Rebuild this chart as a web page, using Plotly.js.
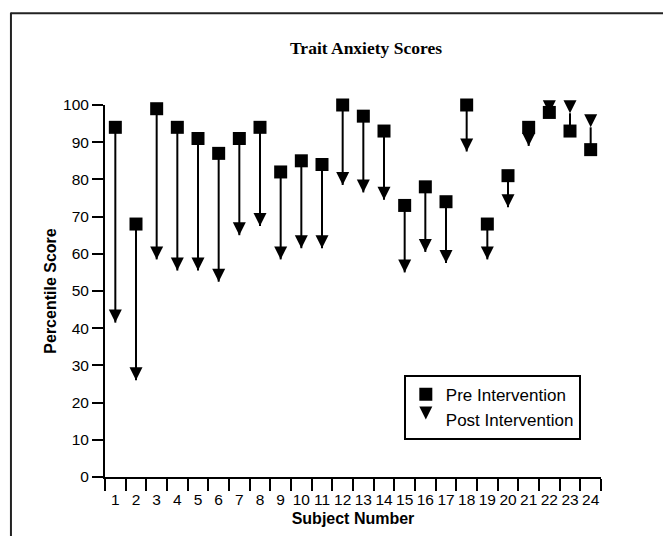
<!DOCTYPE html>
<html>
<head>
<meta charset="utf-8">
<script src="https://cdn.plot.ly/plotly-3.0.1.min.js"></script>
<style>
  html, body { margin: 0; padding: 0; background: #ffffff; }
  #chart { width: 663px; height: 536px; }
</style>
</head>
<body>
<div id="chart"></div>
<script>
// ---- data ----
var subjects = ["1","2","3","4","5","6","7","8","9","10","11","12",
                "13","14","15","16","17","18","19","20","21","22","23","24"];
var preIntervention  = [94, 68, 99, 94, 91, 87, 91, 94, 82, 85, 84, 100,
                        97, 93, 73, 78, 74, 100, 68, 81, 94, 98, 93, 88];
var postIntervention = [41.5, 26, 58.5, 55.5, 55.5, 52.5, 65, 67.5, 58.5, 61.5, 61.5, 78.5,
                        76.5, 74.5, 55, 60.5, 57.5, 87.5, 58.5, 72.5, 89, 97.8, 97.8, 94];
var seriesNames = ["Pre Intervention", "Post Intervention"];
var chartTitle = "Trait Anxiety Scores";
var xTitle = "Subject Number";
var yTitle = "Percentile Score";

// ---- connecting segments built from the data ----
var segX = [], segY = [];
for (var i = 0; i < subjects.length; i++) {
  segX.push(subjects[i], subjects[i], null);
  segY.push(preIntervention[i], postIntervention[i], null);
}

var W = 663, H = 536;
var M = {l: 104.7, r: 61.5, t: 104.5, b: 58.5};
var PW = W - M.l - M.r, PH = H - M.t - M.b;
function px2x(px) { return (px - M.l) / PW; }
function py2y(py) { return (H - M.b - py) / PH; }

var axisFont = {family: "Liberation Sans, Arial, sans-serif", size: 15.5, color: "#000"};

var traces = [
  {
    x: segX, y: segY, type: "scatter", mode: "lines",
    line: {color: "#000", width: 2}, showlegend: false, hoverinfo: "skip",
    cliponaxis: false
  },
  {
    x: subjects, y: postIntervention, type: "scatter", mode: "markers",
    name: seriesNames[1], legendrank: 2,
    marker: {symbol: "arrow-down", size: 13, color: "#000", line: {width: 0}},
    cliponaxis: false
  },
  {
    x: subjects, y: preIntervention, type: "scatter", mode: "markers",
    name: seriesNames[0], legendrank: 1,
    marker: {symbol: "square", size: 13, color: "#000", line: {width: 0}},
    cliponaxis: false
  }
];

var layout = {
  width: W, height: H,
  margin: M,
  paper_bgcolor: "#fff", plot_bgcolor: "#fff",
  showlegend: true,
  title: {
    text: "<b>" + chartTitle + "</b>",
    font: {family: "Liberation Serif, Times New Roman, serif", size: 17.5, color: "#000"},
    xref: "container", x: 366 / W, xanchor: "center",
    yref: "container", y: 1 - 48 / H, yanchor: "middle"
  },
  xaxis: {
    type: "category",
    categoryorder: "array", categoryarray: subjects,
    range: [-0.5, subjects.length - 0.5],
    tickson: "boundaries",
    tickangle: 0,
    ticklabelstandoff: 7,
    ticks: "outside", ticklen: 12, tickwidth: 2, tickcolor: "#000",
    showline: true, linecolor: "#000", linewidth: 2,
    showgrid: false, zeroline: false,
    tickfont: axisFont,
    title: {text: "<b>" + xTitle + "</b>",
            font: {family: "Liberation Sans, Arial, sans-serif", size: 16, color: "#000"},
            standoff: 6}
  },
  yaxis: {
    range: [0, 100], dtick: 10, tick0: 0,
    ticks: "outside", ticklen: 11, tickwidth: 2, tickcolor: "#000",
    showline: true, linecolor: "#000", linewidth: 2,
    showgrid: false, zeroline: false,
    tickfont: axisFont,
    title: {text: "<b>" + yTitle + "</b>",
            font: {family: "Liberation Sans, Arial, sans-serif", size: 16, color: "#000"},
            standoff: 2}
  },
  legend: {
    x: px2x(404), xanchor: "left", xref: "paper",
    y: py2y(375), yanchor: "top", yref: "paper",
    bgcolor: "#fff", bordercolor: "#000", borderwidth: 2,
    font: {family: "Liberation Sans, Arial, sans-serif", size: 17, color: "#000"},
    traceorder: "normal"
  },
  shapes: [
    {type: "line", xref: "paper", yref: "paper",
     x0: px2x(10), x1: px2x(W + 5), y0: py2y(12.5), y1: py2y(12.5),
     line: {color: "#222", width: 2}},
    {type: "line", xref: "paper", yref: "paper",
     x0: px2x(10.5), x1: px2x(10.5), y0: py2y(12), y1: py2y(H + 5),
     line: {color: "#222", width: 2}}
  ]
};

Plotly.newPlot("chart", traces, layout, {staticPlot: true, displayModeBar: false});
</script>
</body>
</html>
